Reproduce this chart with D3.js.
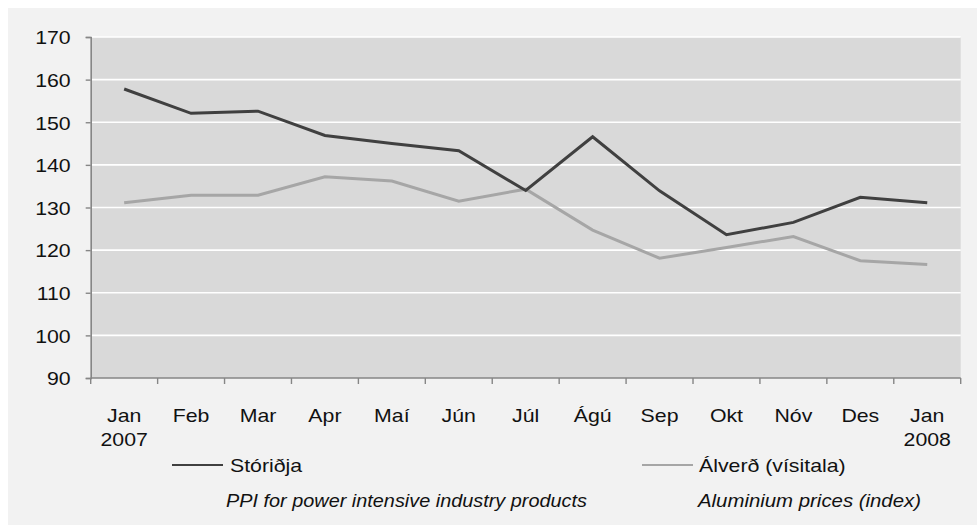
<!DOCTYPE html>
<html>
<head>
<meta charset="utf-8">
<script src="https://cdn.jsdelivr.net/npm/d3@7"></script>
<style>
  body { margin: 0; background: #fff; }
  svg text { font-family: "Liberation Sans", Arimo, Roboto, sans-serif; fill: #111; }
</style>
</head>
<body>
<div id="chart"></div>
<script>
// Data
var months = ["Jan", "Feb", "Mar", "Apr", "Maí", "Jún", "Júl", "Ágú", "Sep", "Okt", "Nóv", "Des", "Jan "];
var years = ["2007", "", "", "", "", "", "", "", "", "", "", "", "2008"];
var storidja = [157.8, 152.1, 152.6, 146.9, 145.0, 143.3, 134.0, 146.6, 133.9, 123.6, 126.5, 132.4, 131.1];
var alverd = [131.1, 132.9, 132.9, 137.2, 136.2, 131.5, 134.3, 124.7, 118.1, 120.6, 123.2, 117.5, 116.6];
var yTicks = [90, 100, 110, 120, 130, 140, 150, 160, 170];

var FONT = "'Liberation Sans', Arimo, Roboto, sans-serif";
var FS = 19;

drawChart();

function drawChart() {
  var W = 978, H = 527;
  var svg = d3.select("#chart").append("svg")
      .attr("width", W)
      .attr("height", H);

  // outer panel
  svg.append("rect")
      .attr("x", 8).attr("y", 8)
      .attr("width", 969).attr("height", 517)
      .attr("fill", "#f2f2f2");

  var margin = {top: 37, left: 90.7, right: 17.3, bottom: 149};
  var width = W - margin.left - margin.right,
      height = H - margin.top - margin.bottom;

  var g = svg.append("g")
      .attr("transform", "translate(" + margin.left + "," + margin.top + ")");

  var x = d3.scaleBand().domain(months).range([0, width]).padding(0);
  var y = d3.scaleLinear().domain([90, 170]).range([height, 0]);

  // plot area
  g.append("rect")
      .attr("width", width).attr("height", height)
      .attr("fill", "#d9d9d9");

  // gridlines
  g.selectAll(".grid")
    .data(yTicks.filter(function(d) { return d > 90; }))
    .enter().append("line")
      .attr("x1", 0).attr("x2", width)
      .attr("y1", function(d) { return y(d); })
      .attr("y2", function(d) { return y(d); })
      .attr("stroke", "#fff")
      .attr("stroke-width", 1.6);

  // y axis
  var yAxis = g.append("g")
      .call(d3.axisLeft(y).tickValues(yTicks).tickSize(5).tickPadding(15))
      .attr("font-family", FONT);
  yAxis.select(".domain").attr("stroke", "#868686").attr("stroke-width", 1.6);
  yAxis.selectAll(".tick line").attr("stroke", "#868686").attr("stroke-width", 1.4);
  yAxis.selectAll(".tick text")
      .attr("class", "stretch")
      .attr("font-size", FS)
      .attr("font-family", FONT)
      .attr("fill", "#111")
      .attr("dy", "0.36em");

  // x axis: ticks at category boundaries
  var xAxis = g.append("g")
      .attr("transform", "translate(0," + height + ")");
  xAxis.append("line")
      .attr("x1", 0).attr("x2", width)
      .attr("stroke", "#868686").attr("stroke-width", 1.6);
  var bounds = months.map(function(d) { return x(d); }).concat([width]);
  xAxis.selectAll(".xtick")
    .data(bounds)
    .enter().append("line")
      .attr("x1", function(d) { return d; })
      .attr("x2", function(d) { return d; })
      .attr("y1", 0).attr("y2", 6)
      .attr("stroke", "#868686").attr("stroke-width", 1.4);

  xAxis.selectAll(".xlabel")
    .data(months)
    .enter().append("text")
      .attr("class", "stretch")
      .attr("text-anchor", "middle")
      .attr("font-size", FS)
      .attr("font-family", FONT)
      .attr("x", function(d) { return x(d) + x.bandwidth() / 2; })
      .attr("y", 44)
      .text(function(d) { return d.trim(); });
  xAxis.selectAll(".ylabel")
    .data(months)
    .enter().append("text")
      .attr("class", "stretch")
      .attr("text-anchor", "middle")
      .attr("font-size", FS)
      .attr("font-family", FONT)
      .attr("x", function(d) { return x(d) + x.bandwidth() / 2; })
      .attr("y", 68)
      .text(function(d, i) { return years[i]; });

  // lines
  var line = d3.line()
      .x(function(d, i) { return x(months[i]) + x.bandwidth() / 2; })
      .y(function(d) { return y(d); });

  g.append("path")
      .datum(alverd)
      .attr("fill", "none")
      .attr("stroke", "#a6a6a6")
      .attr("stroke-width", 3)
      .attr("d", line);

  g.append("path")
      .datum(storidja)
      .attr("fill", "none")
      .attr("stroke", "#404040")
      .attr("stroke-width", 3)
      .attr("d", line);

  // legend
  var legend = [
    {name: "Stóriðja", sub: "PPI for power intensive industry products", color: "#404040", x0: 172, tx: 230, sx: 226, len: 361},
    {name: "Álverð (vísitala)", sub: "Aluminium prices (index)", color: "#a6a6a6", x0: 642, tx: 699, sx: 698, len: 223}
  ];
  var lg = svg.selectAll(".legend")
    .data(legend)
    .enter().append("g");
  lg.append("line")
      .attr("x1", function(d) { return d.x0; })
      .attr("x2", function(d) { return d.x0 + 51; })
      .attr("y1", 465).attr("y2", 465)
      .attr("stroke", function(d) { return d.color; })
      .attr("stroke-width", 2);
  lg.append("text")
      .attr("class", "stretch")
      .attr("x", function(d) { return d.tx; })
      .attr("y", 472)
      .attr("font-size", FS)
      .attr("font-family", FONT)
      .text(function(d) { return d.name; });
  lg.append("text")
      .attr("x", function(d) { return d.sx; })
      .attr("y", 507)
      .attr("font-size", FS)
      .attr("font-family", FONT)
      .attr("font-style", "italic")
      .attr("textLength", function(d) { return d.len; })
      .attr("lengthAdjust", "spacingAndGlyphs")
      .text(function(d) { return d.sub; });

  // the reference text is slightly wide; stretch glyphs horizontally
  svg.selectAll("text.stretch").each(function() {
    var len = this.getComputedTextLength();
    if (len > 0) {
      d3.select(this)
        .attr("textLength", len * 1.12)
        .attr("lengthAdjust", "spacingAndGlyphs");
    }
  });
}
</script>
</body>
</html>
